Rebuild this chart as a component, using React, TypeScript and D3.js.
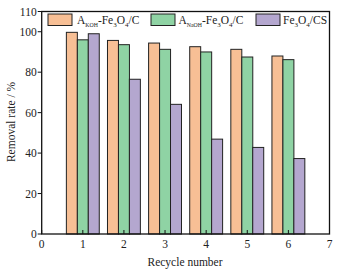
import React from "react";
import * as d3 from "d3";

const cycles = [1, 2, 3, 4, 5, 6];
const kohValues = [99.7, 95.7, 94.4, 92.6, 91.3, 88.0];
const naohValues = [96.0, 93.6, 91.3, 90.0, 87.5, 86.2];
const csValues = [99.0, 76.5, 64.1, 46.9, 42.8, 37.3];
const xTicks = [0, 1, 2, 3, 4, 5, 6, 7];
const yTicks = [0, 20, 40, 60, 80, 100, 110];

const colors = ["#F7BF95", "#8FD3A4", "#B4A7CF"];
const FONT = "'Liberation Serif', 'Times New Roman', serif";

export default function App() {
  const W = 340, H = 274;
  const x = d3.scaleLinear().domain([0, 7]).range([41.7, 329.5]);
  const y = d3.scaleLinear().domain([0, 110]).range([234, 11.5]);
  const bw = 0.267;
  const series = [kohValues, naohValues, csValues];
  const offsets = [-0.4, -0.133, 0.133];

  const legend = [
    { sx: 48, tx: 77, main: "A", sub: "KOH", rest: true },
    { sx: 151, tx: 178.5, main: "A", sub: "NaOH", rest: true },
    { sx: 256, tx: 283, main: "", sub: "", rest: false },
  ];

  return (
    <svg width={W} height={H} style={{ position: "absolute", left: 0, top: 0, background: "#fff" }} fontFamily={FONT}>
      <rect x={0} y={0} width={W} height={H} fill="#fff" />
      {series.map((vals, si) =>
        vals.map((v, i) => (
          <rect
            key={`${si}-${i}`}
            x={x(cycles[i] + offsets[si])}
            y={y(v)}
            width={x(bw) - x(0)}
            height={y(0) - y(v)}
            fill={colors[si]}
            stroke="#222"
            strokeWidth={1}
          />
        ))
      )}
      <rect x={x(0)} y={y(110)} width={x(7) - x(0)} height={y(0) - y(110)} fill="none" stroke="#111" strokeWidth={1.3} />
      {xTicks.map((t) => (
        <g key={`xt${t}`}>
          <line x1={x(t)} x2={x(t)} y1={y(0)} y2={y(0) - 4} stroke="#111" strokeWidth={1} />
          <text x={x(t)} y={y(0) + 14} textAnchor="middle" fontSize={11.5} fill="#222">{t}</text>
        </g>
      ))}
      {yTicks.map((t) => (
        <g key={`yt${t}`}>
          <line x1={x(0)} x2={x(0) - 4} y1={y(t)} y2={y(t)} stroke="#111" strokeWidth={1} />
          <text x={x(0) - 5} y={y(t) + 4} textAnchor="end" fontSize={11.5} fill="#222">{t}</text>
        </g>
      ))}
      <text x={185} y={266} textAnchor="middle" fontSize={11.5} fill="#222">Recycle number</text>
      <text transform={`translate(15,${122}) rotate(-90)`} textAnchor="middle" fontSize={11.5} fill="#222">Removal rate / %</text>
      {legend.map((l, i) => (
        <g key={`lg${i}`}>
          <rect x={l.sx} y={14} width={24} height={11.5} fill={colors[i]} stroke="#222" strokeWidth={1} />
          {l.rest ? (
            <text x={l.tx} y={24} fontSize={11.5} fill="#222">
              {l.main}
              <tspan fontSize={5.8} dy={2.5}>{l.sub}</tspan>
              <tspan dy={-2.5}>-Fe</tspan>
              <tspan fontSize={7} dy={2.5}>3</tspan>
              <tspan dy={-2.5}>O</tspan>
              <tspan fontSize={7} dy={2.5}>4</tspan>
              <tspan dy={-2.5}>/C</tspan>
            </text>
          ) : (
            <text x={l.tx} y={24} fontSize={11.5} fill="#222">
              Fe
              <tspan fontSize={7} dy={2.5}>3</tspan>
              <tspan dy={-2.5}>O</tspan>
              <tspan fontSize={7} dy={2.5}>4</tspan>
              <tspan dy={-2.5}>/CS</tspan>
            </text>
          )}
        </g>
      ))}
    </svg>
  );
}
